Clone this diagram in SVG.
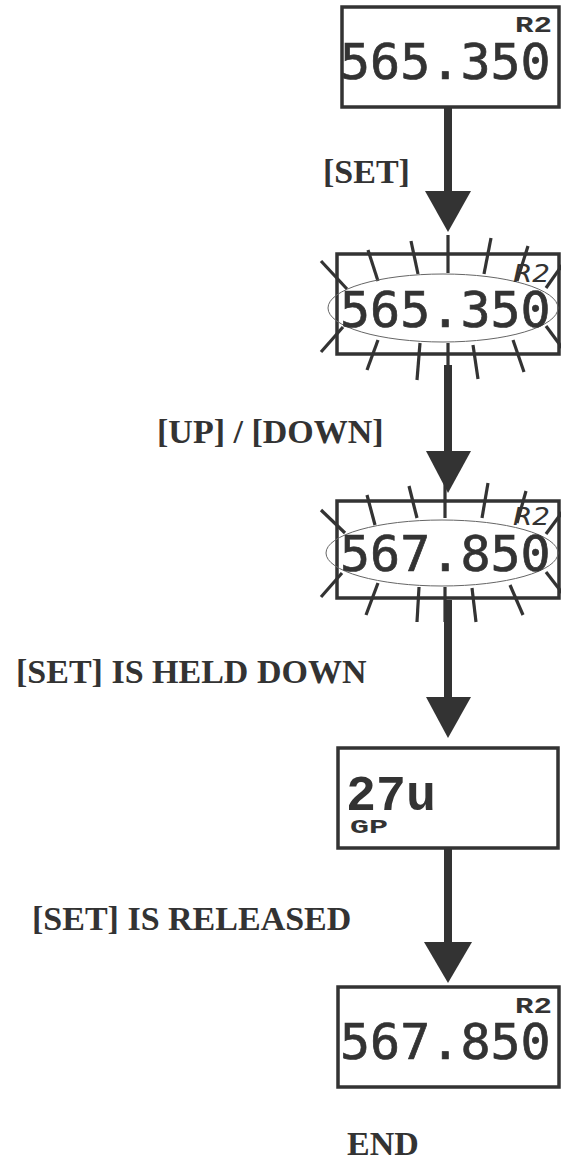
<svg xmlns="http://www.w3.org/2000/svg" width="561" height="1160" viewBox="0 0 561 1160">
<style>
.box{fill:#fff;stroke:#333;stroke-width:3.5}
.lbl{font-family:"Liberation Serif","Times New Roman",serif;font-weight:bold;font-size:34px;fill:#333}
.num{font-family:"DejaVu Sans Mono",monospace;font-size:50px;fill:#333;stroke:#333;stroke-width:0.7}
.cour{font-family:"Courier New","Nimbus Mono PS","FreeMono","Liberation Mono",monospace;font-weight:bold;fill:#333}
.ital{font-family:"DejaVu Sans",sans-serif;font-style:italic;font-size:25px;fill:#333}
.ray{stroke:#333;stroke-width:3.2;fill:none}
.ell{fill:none;stroke:#666;stroke-width:1}
.shaft{stroke:#333;stroke-width:8}
.head{fill:#333}
</style>
<rect width="561" height="1160" fill="#fff"/>
<g id="connectors">
<line class="shaft" x1="448" y1="107" x2="448" y2="195"/>
<polygon class="head" points="425,191 471,191 448,232"/>
<line class="shaft" x1="448" y1="365" x2="448" y2="455"/>
<polygon class="head" points="426,451 471,451 448,493"/>
<line class="shaft" x1="448" y1="600" x2="448" y2="700"/>
<polygon class="head" points="426,697 471,697 448,738"/>
<line class="shaft" x1="448" y1="848" x2="448" y2="946"/>
<polygon class="head" points="424,942 472,942 448,983"/>
</g>
<g id="node1">
<rect class="box" x="342" y="7" width="217" height="100"/>
<text class="cour" x="515" y="32" font-size="22" textLength="37" lengthAdjust="spacingAndGlyphs">R2</text>
<text class="num" x="340" y="79">565.350</text>
</g>
<g id="node2">
<rect class="box" x="337" y="254" width="222" height="100"/>
<g class="ray">
<line x1="321" y1="261" x2="347" y2="289"/>
<line x1="368" y1="250" x2="378" y2="281"/>
<line x1="411" y1="241" x2="418" y2="274"/>
<line x1="448" y1="235" x2="448" y2="273"/>
<line x1="491" y1="238" x2="484" y2="274"/>
<line x1="528" y1="246" x2="517" y2="281"/>
<line x1="563" y1="264" x2="546" y2="288"/>
<line x1="321" y1="352" x2="343" y2="327"/>
<line x1="367" y1="370" x2="378" y2="340"/>
<line x1="417" y1="380" x2="420" y2="343"/>
<line x1="448" y1="383" x2="448" y2="343"/>
<line x1="478" y1="379" x2="473" y2="345"/>
<line x1="524" y1="372" x2="513" y2="340"/>
<line x1="563" y1="349" x2="546" y2="326"/>
</g>
<ellipse class="ell" cx="443" cy="308" rx="115" ry="34"/>
<text class="ital" x="513" y="282" textLength="37" lengthAdjust="spacingAndGlyphs">R2</text>
<text class="num" x="340" y="327">565.350</text>
</g>
<g id="node3">
<rect class="box" x="337" y="501" width="222" height="97"/>
<g class="ray">
<line x1="321" y1="510" x2="345" y2="533"/>
<line x1="367" y1="495" x2="375" y2="525"/>
<line x1="409" y1="486" x2="417" y2="518"/>
<line x1="445" y1="481" x2="445" y2="518"/>
<line x1="488" y1="483" x2="482" y2="518"/>
<line x1="526" y1="491" x2="517" y2="523"/>
<line x1="563" y1="511" x2="546" y2="534"/>
<line x1="321" y1="597" x2="342" y2="573"/>
<line x1="366" y1="615" x2="378" y2="583"/>
<line x1="417" y1="622" x2="419" y2="587"/>
<line x1="445" y1="622" x2="445" y2="587"/>
<line x1="476" y1="622" x2="472" y2="588"/>
<line x1="523" y1="615" x2="510" y2="585"/>
<line x1="563" y1="594" x2="546" y2="572"/>
</g>
<ellipse class="ell" cx="442" cy="553" rx="116" ry="33"/>
<text class="ital" x="513" y="525" textLength="37" lengthAdjust="spacingAndGlyphs">R2</text>
<text class="num" x="340" y="571">567.850</text>
</g>
<g id="node4">
<rect class="box" x="338" y="748" width="220" height="100"/>
<text class="cour" x="346" y="810" font-size="50">27u</text>
<text class="cour" x="350" y="833" font-size="20" textLength="38" lengthAdjust="spacingAndGlyphs">GP</text>
</g>
<g id="node5">
<rect class="box" x="338" y="987" width="221" height="100"/>
<text class="cour" x="515" y="1013" font-size="22" textLength="37" lengthAdjust="spacingAndGlyphs">R2</text>
<text class="num" x="340" y="1059">567.850</text>
</g>
<g id="labels">
<text class="lbl" x="323" y="183">[SET]</text>
<text class="lbl" x="157" y="443">[UP] / [DOWN]</text>
<text class="lbl" x="16" y="683">[SET] IS HELD DOWN</text>
<text class="lbl" x="32" y="930">[SET] IS RELEASED</text>
<text class="lbl" x="347" y="1155">END</text>
</g>
</svg>
